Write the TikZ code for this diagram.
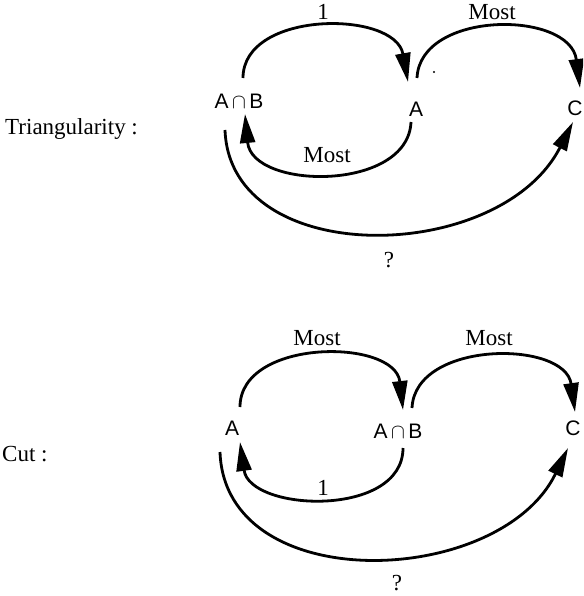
\documentclass[tikz,border=0pt]{standalone}
\usepackage{fontspec}
\setmainfont{Liberation Serif}
\newfontfamily\nodefont{Liberation Sans}
\usetikzlibrary{arrows.meta}
\tikzset{
  txt/.style={inner sep=0pt, font=\fontsize{23}{27}\selectfont},
  setlbl/.style={inner sep=0pt, font=\nodefont\fontsize{21}{25}\selectfont},
  arc/.style={line width=2.8pt, -{Triangle[length=29pt,width=15pt]}},
}
\begin{document}
\begin{tikzpicture}[x=1pt,y=-1pt]
\clip (0,0) rectangle (583,596);
% left titles
\node[txt, anchor=base west] (tri) at (5,135) {Triangularity :};
\node[txt, anchor=base west] (cut) at (2,461) {Cut :};

% ---------- Triangularity ----------
\node[setlbl] (ab1) at (239,101) {A$\,\cap\,$B};
\node[setlbl] (a1) at (416,109) {A};
\node[setlbl] (c1) at (575,108) {C};

\draw[arc] ([shift={(4,-23)}]ab1.center) .. controls (243,10) and (395,10) .. ([shift={(-8,-27)}]a1.center);
\draw[arc] ([shift={(1,-31)}]a1.center) .. controls (420,10) and (570,10) .. ([shift={(5,-20)}]c1.center);
\draw[arc] ([shift={(-5,13)}]a1.center) .. controls (408,192) and (252,190) .. ([shift={(6,13)}]ab1.center);
\draw[arc] ([shift={(-14,29)}]ab1.center) .. controls (230,270) and (500,265) .. ([shift={(-2,14)}]c1.center);

\node[txt, anchor=base] (l1) at (323,20) {1};
\node[txt, anchor=base] (l2) at (492,20) {Most};
\node[txt, anchor=base] (l3) at (327,163) {Most};
\node[txt, anchor=base] (l4) at (389,267) {?};
\fill (434,72) circle (1.2);

% ---------- Cut ----------
\node[setlbl] (a2) at (232,428) {A};
\node[setlbl] (ab2) at (398,431) {A$\,\cap\,$B};
\node[setlbl] (c2) at (573,428) {C};

\draw[arc] ([shift={(8,-21)}]a2.center) .. controls (240,338) and (395,338) .. ([shift={(5,-21)}]ab2.center);
\draw[arc] ([shift={(14,-23)}]ab2.center) .. controls (415,340) and (565,340) .. ([shift={(2,-16)}]c2.center);
\draw[arc] ([shift={(5,17)}]ab2.center) .. controls (403,518) and (250,512) .. ([shift={(8,14)}]a2.center);
\draw[arc] ([shift={(-12,24)}]a2.center) .. controls (225,598) and (500,588) .. ([shift={(-5,20)}]c2.center);

\node[txt, anchor=base] (m1) at (317,345) {Most};
\node[txt, anchor=base] (m2) at (489,345) {Most};
\node[txt, anchor=base] (m3) at (323,495) {1};
\node[txt, anchor=base] (m4) at (397,590) {?};
\end{tikzpicture}
\end{document}
